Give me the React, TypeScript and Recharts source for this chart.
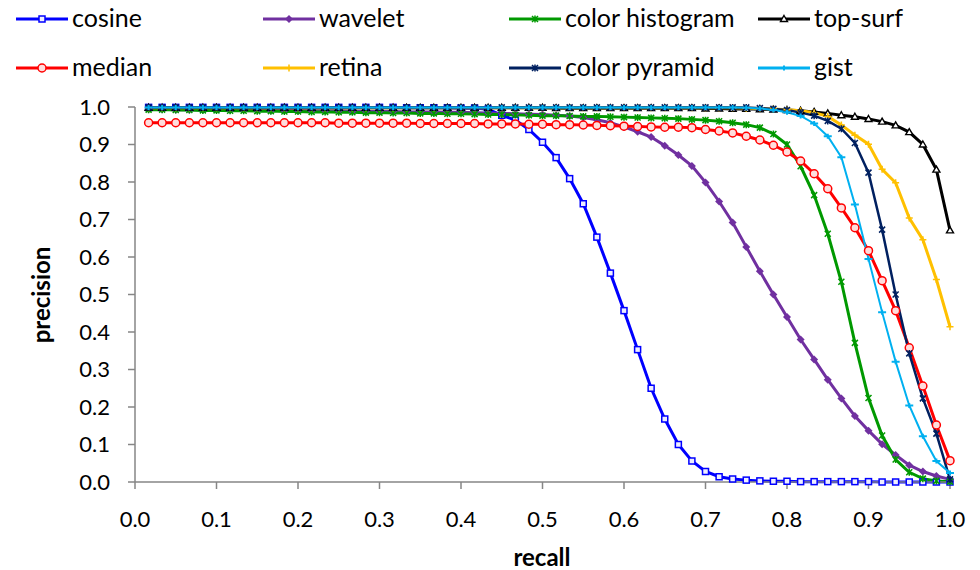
import React from 'react';
import { LineChart, Line, XAxis, YAxis } from 'recharts';

// recall sampled at 60 steps
const recall = [
  0.0167, 0.0333, 0.05, 0.0667, 0.0833, 0.1, 0.1167, 0.1333, 0.15, 0.1667,
  0.1833, 0.2, 0.2167, 0.2333, 0.25, 0.2667, 0.2833, 0.3, 0.3167, 0.3333,
  0.35, 0.3667, 0.3833, 0.4, 0.4167, 0.4333, 0.45, 0.4667, 0.4833, 0.5,
  0.5167, 0.5333, 0.55, 0.5667, 0.5833, 0.6, 0.6167, 0.6333, 0.65, 0.6667,
  0.6833, 0.7, 0.7167, 0.7333, 0.75, 0.7667, 0.7833, 0.8, 0.8167, 0.8333,
  0.85, 0.8667, 0.8833, 0.9, 0.9167, 0.9333, 0.95, 0.9667, 0.9833, 1.0,
];

const cosine = [
  0.999, 0.999, 0.999, 0.999, 0.999, 0.999, 0.999, 0.999, 0.999, 0.999,
  0.999, 0.999, 0.999, 0.999, 0.999, 0.999, 0.999, 0.999, 0.999, 0.998,
  0.998, 0.998, 0.998, 0.997, 0.997, 0.994, 0.978, 0.965, 0.940, 0.906,
  0.865, 0.809, 0.742, 0.653, 0.557, 0.457, 0.353, 0.250, 0.168, 0.100,
  0.056, 0.028, 0.014, 0.008, 0.005, 0.003, 0.002, 0.002, 0.001, 0.001,
  0.001, 0.001, 0.001, 0.001, 0.000, 0.000, 0.000, 0.000, 0.000, 0.000,
];

const wavelet = [
  0.994, 0.994, 0.993, 0.993, 0.993, 0.993, 0.992, 0.992, 0.992, 0.991,
  0.991, 0.991, 0.990, 0.990, 0.990, 0.989, 0.989, 0.988, 0.988, 0.987,
  0.987, 0.987, 0.986, 0.986, 0.985, 0.984, 0.983, 0.982, 0.981, 0.980,
  0.978, 0.976, 0.972, 0.966, 0.958, 0.947, 0.934, 0.920, 0.897, 0.872,
  0.843, 0.799, 0.748, 0.692, 0.627, 0.562, 0.500, 0.440, 0.380, 0.327,
  0.273, 0.223, 0.176, 0.137, 0.101, 0.072, 0.045, 0.028, 0.016, 0.007,
];

const colorHistogram = [
  0.993, 0.993, 0.992, 0.992, 0.991, 0.991, 0.990, 0.990, 0.989, 0.989,
  0.988, 0.988, 0.987, 0.987, 0.986, 0.986, 0.985, 0.985, 0.984, 0.984,
  0.983, 0.983, 0.982, 0.982, 0.981, 0.980, 0.980, 0.979, 0.978, 0.977,
  0.977, 0.976, 0.975, 0.975, 0.974, 0.973, 0.972, 0.971, 0.970, 0.969,
  0.967, 0.965, 0.962, 0.958, 0.953, 0.945, 0.928, 0.900, 0.842, 0.765,
  0.662, 0.534, 0.371, 0.224, 0.124, 0.060, 0.026, 0.009, 0.003, 0.001,
];

const topSurf = [
  0.998, 0.998, 0.998, 0.998, 0.998, 0.998, 0.998, 0.998, 0.998, 0.998,
  0.998, 0.998, 0.998, 0.998, 0.998, 0.998, 0.998, 0.998, 0.998, 0.998,
  0.998, 0.998, 0.998, 0.998, 0.998, 0.998, 0.998, 0.998, 0.998, 0.998,
  0.997, 0.997, 0.997, 0.997, 0.997, 0.997, 0.997, 0.997, 0.997, 0.997,
  0.997, 0.996, 0.996, 0.995, 0.995, 0.994, 0.993, 0.992, 0.990, 0.987,
  0.983, 0.978, 0.974, 0.968, 0.961, 0.951, 0.933, 0.900, 0.833, 0.671,
];

const median = [
  0.958, 0.958, 0.958, 0.958, 0.958, 0.958, 0.958, 0.958, 0.958, 0.958,
  0.958, 0.958, 0.958, 0.958, 0.957, 0.957, 0.957, 0.957, 0.957, 0.957,
  0.956, 0.956, 0.956, 0.956, 0.956, 0.955, 0.955, 0.955, 0.954, 0.954,
  0.953, 0.953, 0.952, 0.951, 0.950, 0.949, 0.948, 0.947, 0.946, 0.946,
  0.945, 0.940, 0.936, 0.931, 0.922, 0.912, 0.898, 0.880, 0.856, 0.822,
  0.782, 0.731, 0.678, 0.617, 0.537, 0.457, 0.358, 0.256, 0.152, 0.057,
];

const retina = [
  0.998, 0.998, 0.998, 0.998, 0.998, 0.998, 0.998, 0.998, 0.998, 0.998,
  0.998, 0.998, 0.998, 0.998, 0.998, 0.998, 0.998, 0.998, 0.998, 0.998,
  0.998, 0.998, 0.998, 0.998, 0.998, 0.998, 0.998, 0.998, 0.998, 0.998,
  0.998, 0.998, 0.998, 0.998, 0.998, 0.998, 0.998, 0.998, 0.998, 0.998,
  0.998, 0.998, 0.998, 0.998, 0.997, 0.996, 0.995, 0.993, 0.990, 0.985,
  0.975, 0.952, 0.925, 0.901, 0.834, 0.798, 0.704, 0.646, 0.540, 0.414,
];

const colorPyramid = [
  0.999, 0.999, 0.999, 0.999, 0.999, 0.999, 0.999, 0.999, 0.999, 0.999,
  0.999, 0.999, 0.999, 0.999, 0.999, 0.999, 0.999, 0.999, 0.999, 0.999,
  0.999, 0.999, 0.999, 0.999, 0.999, 0.999, 0.999, 0.999, 0.999, 0.999,
  0.999, 0.999, 0.999, 0.999, 0.999, 0.999, 0.999, 0.999, 0.999, 0.999,
  0.999, 0.999, 0.999, 0.999, 0.999, 0.997, 0.995, 0.992, 0.985, 0.977,
  0.963, 0.942, 0.904, 0.825, 0.673, 0.500, 0.343, 0.223, 0.129, 0.007,
];

const gist = [
  0.999, 0.999, 0.999, 0.999, 0.999, 0.999, 0.999, 0.999, 0.999, 0.999,
  0.999, 0.999, 0.999, 0.999, 0.999, 0.999, 0.999, 0.999, 0.999, 0.999,
  0.999, 0.999, 0.999, 0.999, 0.999, 0.999, 0.999, 0.999, 0.999, 0.999,
  0.999, 0.999, 0.999, 0.999, 0.999, 0.999, 0.999, 0.999, 0.999, 0.999,
  0.999, 0.999, 0.999, 0.999, 0.998, 0.996, 0.992, 0.986, 0.976, 0.956,
  0.922, 0.866, 0.740, 0.595, 0.453, 0.321, 0.204, 0.122, 0.056, 0.024,
];

const xTicks = [0, 0.1, 0.2, 0.3, 0.4, 0.5, 0.6, 0.7, 0.8, 0.9, 1.0];
const yTicks = [0, 0.1, 0.2, 0.3, 0.4, 0.5, 0.6, 0.7, 0.8, 0.9, 1.0];

const data = recall.map((r, i) => ({
  recall: r,
  cosine: cosine[i],
  wavelet: wavelet[i],
  colorHistogram: colorHistogram[i],
  topSurf: topSurf[i],
  median: median[i],
  retina: retina[i],
  colorPyramid: colorPyramid[i],
  gist: gist[i],
}));

type Shape = 'square' | 'diamond' | 'star' | 'triangle' | 'circle' | 'plus' | 'dash';

interface SeriesDef {
  key: string;
  name: string;
  color: string;
  width: number;
  shape: Shape;
}

// legend order, row by row
const series: SeriesDef[] = [
  { key: 'cosine', name: 'cosine', color: '#0000FF', width: 3, shape: 'square' },
  { key: 'wavelet', name: 'wavelet', color: '#7030A0', width: 3, shape: 'diamond' },
  { key: 'colorHistogram', name: 'color histogram', color: '#009900', width: 3, shape: 'star' },
  { key: 'topSurf', name: 'top-surf', color: '#000000', width: 3, shape: 'triangle' },
  { key: 'median', name: 'median', color: '#FF0000', width: 3, shape: 'circle' },
  { key: 'retina', name: 'retina', color: '#FFC000', width: 3, shape: 'plus' },
  { key: 'colorPyramid', name: 'color pyramid', color: '#002060', width: 2.5, shape: 'star' },
  { key: 'gist', name: 'gist', color: '#00B0F0', width: 2, shape: 'dash' },
];

const FONT = 'Lato, "Open Sans", sans-serif';
const AXIS = '#868686';

const Marker = ({ shape, cx, cy, color }: { shape: Shape; cx: number; cy: number; color: string }) => {
  switch (shape) {
    case 'square':
      return <rect x={cx - 3} y={cy - 3} width={6} height={6} fill="#eef" stroke={color} strokeWidth={1.5} />;
    case 'diamond':
      return (
        <polygon
          points={`${cx},${cy - 4} ${cx + 4},${cy} ${cx},${cy + 4} ${cx - 4},${cy}`}
          fill={color}
        />
      );
    case 'star':
      return (
        <path
          d={`M${cx - 3},${cy - 3}L${cx + 3},${cy + 3}M${cx + 3},${cy - 3}L${cx - 3},${cy + 3}M${cx},${cy - 3.5}L${cx},${cy + 3.5}`}
          stroke={color}
          strokeWidth={1.5}
          fill="none"
        />
      );
    case 'triangle':
      return (
        <polygon
          points={`${cx},${cy - 3.5} ${cx + 3.5},${cy + 2.5} ${cx - 3.5},${cy + 2.5}`}
          fill="#fff"
          stroke={color}
          strokeWidth={1.4}
        />
      );
    case 'circle':
      return <circle cx={cx} cy={cy} r={4} fill="#fdd" stroke={color} strokeWidth={1.5} />;
    case 'plus':
      return (
        <path
          d={`M${cx - 3.5},${cy}L${cx + 3.5},${cy}M${cx},${cy - 3.5}L${cx},${cy + 3.5}`}
          stroke={color}
          strokeWidth={1.5}
        />
      );
    case 'dash':
      return (
        <path
          d={`M${cx - 4},${cy}L${cx + 4},${cy}M${cx},${cy - 2.5}L${cx},${cy + 2.5}`}
          stroke={color}
          strokeWidth={2}
        />
      );
    default:
      return null;
  }
};

const makeDot = (s: SeriesDef) => (props: any) => {
  const { cx, cy, index } = props;
  if (cx == null || cy == null) return <g key={`${s.key}-${index}`} />;
  return (
    <g key={`${s.key}-${index}`}>
      <Marker shape={s.shape} cx={cx} cy={cy} color={s.color} />
    </g>
  );
};

const legendCols = [16, 263, 509, 758];
const legendRows = [19, 68];

const Legend = () => (
  <>
    {series.map((s, i) => {
      const left = legendCols[i % 4];
      const top = legendRows[Math.floor(i / 4)];
      return (
        <div key={s.key}>
          <svg
            width={52}
            height={20}
            style={{ position: 'absolute', left, top: top - 10 }}
          >
            <line x1={0} y1={10} x2={52} y2={10} stroke={s.color} strokeWidth={3} />
            <Marker shape={s.shape} cx={26} cy={10} color={s.color} />
          </svg>
          <span
            style={{
              position: 'absolute',
              left: left + 56,
              top: top - 16,
              fontFamily: FONT,
              fontSize: 25,
              lineHeight: '28px',
              color: '#000',
              whiteSpace: 'nowrap',
            }}
          >
            {s.name}
          </span>
        </div>
      );
    })}
  </>
);

const App: React.FC = () => {
  return (
    <div style={{ position: 'relative', width: 980, height: 570, background: '#fff' }}>
      <style>{'body{margin:0}'}</style>
      <LineChart width={980} height={570} data={data} margin={{ top: 107, right: 30, bottom: 0, left: 0 }}>
        <XAxis
          dataKey="recall"
          type="number"
          domain={[0, 1]}
          ticks={xTicks}
          tickFormatter={(v: number) => v.toFixed(1)}
          height={88}
          axisLine={{ stroke: AXIS, strokeWidth: 1.5 }}
          tickLine={{ stroke: AXIS, strokeWidth: 1.5 }}
          tickSize={7}
          tickMargin={22}
          tick={{ fill: '#000', fontSize: 22, fontFamily: FONT }}
          label={{
            content: () => (
              <text x={542} y={556} textAnchor="middle" dominantBaseline="central" fontFamily={FONT} fontSize={24} fontWeight="bold" fill="#000">
                recall
              </text>
            ),
          }}
        />
        <YAxis
          type="number"
          domain={[0, 1]}
          ticks={yTicks}
          tickFormatter={(v: number) => v.toFixed(1)}
          width={135}
          axisLine={{ stroke: AXIS, strokeWidth: 1.5 }}
          tickLine={{ stroke: AXIS, strokeWidth: 1.5 }}
          tickSize={7}
          tickMargin={18}
          tick={{ fill: '#000', fontSize: 22, fontFamily: FONT }}
          label={{
            content: () => (
              <text x={40} y={295} transform="rotate(-90 40 295)" textAnchor="middle" dominantBaseline="central" fontFamily={FONT} fontSize={24} fontWeight="bold" fill="#000">
                precision
              </text>
            ),
          }}
        />
        {series.map((s) => (
          <Line
            key={s.key}
            type="linear"
            dataKey={s.key}
            name={s.name}
            stroke={s.color}
            strokeWidth={s.width}
            dot={makeDot(s)}
            activeDot={false}
            isAnimationActive={false}
          />
        ))}
      </LineChart>
      <Legend />
    </div>
  );
};

export default App;
